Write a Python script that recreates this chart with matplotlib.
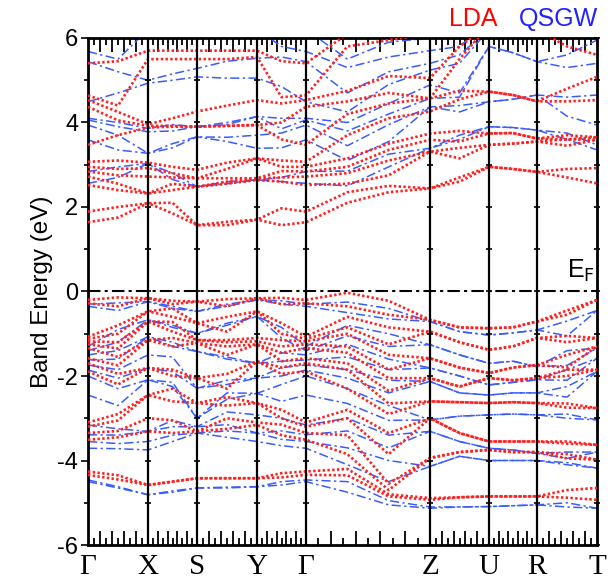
import matplotlib
matplotlib.use("Agg")
import matplotlib.pyplot as plt
import matplotlib.transforms as mtransforms
import numpy as np

plt.rcParams["font.family"] = ["Liberation Sans", "DejaVu Sans"]

# k-path (segment lengths along the path) and high-symmetry labels
seg_len = [60, 49, 60, 49, 124, 59, 48, 60]
hs_labels = ["Γ", "X", "S", "Y", "Γ", "Z", "U", "R", "T"]

# energies (eV) at the 18 k-nodes:
# Γ, m, X, m, S, m, Y, m, Γ, q1, q2, Z, m, U, m, R, m, T
lda_val = [
    [-0.20, -0.28, -1.07, -1.12, -1.18, -1.25, -1.34, -1.58, -1.70, -1.89, -3.10, -3.20, -3.35, -3.51, -4.26, -4.34],
    [-0.14, -0.35, -0.80, -1.00, -1.20, -1.35, -1.55, -1.75, -1.95, -2.20, -2.90, -3.05, -3.30, -3.45, -4.35, -4.45],
    [-0.16, -0.16, -0.47, -0.47, -0.71, -0.71, -1.15, -1.15, -1.81, -1.81, -2.45, -2.45, -3.00, -3.31, -4.58, -4.58],
    [-0.22, -0.30, -0.40, -0.60, -0.72, -0.95, -1.10, -1.30, -1.85, -2.00, -2.30, -2.60, -3.05, -3.35, -4.50, -4.50],
    [-0.24, -0.24, -0.75, -0.75, -1.15, -1.15, -1.22, -1.22, -2.05, -2.05, -2.64, -2.64, -3.31, -3.31, -4.42, -4.42],
    [-0.18, -0.35, -0.60, -0.95, -1.15, -1.20, -1.30, -1.50, -1.95, -2.30, -2.50, -2.70, -3.00, -3.25, -4.42, -4.42],
    [-0.16, -0.16, -0.47, -0.47, -1.10, -1.18, -1.25, -1.25, -1.65, -1.65, -2.64, -2.64, -3.10, -3.16, -4.42, -4.42],
    [-0.15, -0.30, -0.75, -1.00, -1.15, -1.30, -1.45, -1.65, -1.80, -1.95, -2.80, -3.00, -3.15, -3.40, -4.30, -4.40],
    [-0.20, -0.28, -1.07, -1.12, -1.18, -1.25, -1.34, -1.58, -1.70, -1.89, -3.10, -3.20, -3.35, -3.51, -4.26, -4.34],
    [-0.03, -0.35, -0.60, -0.85, -1.00, -1.30, -1.45, -1.70, -1.85, -2.30, -2.80, -3.00, -3.40, -3.85, -4.20, -4.35],
    [-0.22, -0.55, -0.85, -1.25, -1.50, -1.85, -2.05, -2.35, -2.65, -2.90, -3.35, -3.85, -4.55, -4.70, -4.80, -4.85],
    [-0.67, -0.67, -0.95, -0.95, -1.58, -1.58, -2.05, -2.05, -2.60, -2.60, -3.00, -3.00, -3.94, -3.94, -4.89, -4.93],
    [-0.85, -0.85, -1.20, -1.20, -1.80, -1.80, -2.25, -2.25, -2.62, -2.62, -3.35, -3.35, -3.80, -3.80, -4.87, -4.87],
    [-0.87, -0.87, -1.38, -1.38, -1.93, -1.93, -2.05, -2.05, -2.64, -2.64, -3.55, -3.55, -3.75, -3.75, -4.85, -4.85],
    [-0.85, -0.85, -1.30, -1.30, -1.80, -1.80, -2.10, -2.10, -2.62, -2.62, -3.55, -3.55, -3.80, -3.80, -4.85, -4.85],
    [-0.71, -0.71, -1.10, -1.10, -1.74, -1.74, -2.05, -2.05, -2.64, -2.64, -3.55, -3.55, -3.80, -3.80, -4.85, -4.85],
    [-0.45, -0.55, -1.05, -1.20, -1.50, -1.80, -1.85, -2.00, -2.65, -2.75, -3.55, -3.60, -3.85, -3.95, -4.70, -4.88],
    [-0.20, -0.20, -1.10, -1.10, -1.30, -1.30, -1.85, -1.85, -2.76, -2.76, -3.63, -3.63, -3.98, -3.98, -4.65, -4.93],
]

gw_val = [
    [-0.30, -0.35, -1.30, -1.40, -1.50, -1.62, -1.74, -1.86, -2.00, -2.45, -3.16, -3.39, -3.55, -3.71, -4.46, -4.50],
    [-0.27, -0.45, -0.90, -1.20, -1.40, -1.60, -1.85, -2.05, -2.30, -2.70, -3.25, -3.40, -3.60, -3.72, -4.62, -4.65],
    [-0.24, -0.24, -0.67, -0.67, -1.07, -1.07, -1.50, -1.81, -2.09, -2.09, -3.31, -3.31, -3.55, -3.75, -4.81, -4.81],
    [-0.35, -0.40, -0.80, -0.85, -1.20, -1.30, -1.55, -1.90, -2.15, -2.25, -3.05, -3.20, -3.40, -3.55, -4.72, -4.75],
    [-0.47, -0.47, -0.99, -0.99, -1.42, -1.42, -2.29, -2.29, -3.00, -3.00, -3.20, -3.20, -3.35, -3.35, -4.65, -4.65],
    [-0.30, -0.35, -0.75, -0.80, -1.55, -1.60, -2.10, -2.20, -2.40, -2.55, -2.85, -3.15, -3.30, -3.45, -4.63, -4.65],
    [-0.20, -0.20, -0.59, -0.59, -1.70, -1.70, -2.05, -2.05, -2.41, -2.41, -2.92, -3.35, -3.35, -3.55, -4.62, -4.62],
    [-0.22, -0.30, -0.85, -1.10, -1.45, -1.65, -1.80, -2.00, -2.20, -2.60, -3.00, -3.30, -3.50, -3.65, -4.50, -4.58],
    [-0.30, -0.35, -1.30, -1.40, -1.50, -1.62, -1.74, -1.86, -2.00, -2.45, -3.16, -3.39, -3.55, -3.71, -4.46, -4.50],
    [-0.25, -0.50, -0.80, -1.05, -1.25, -1.55, -1.85, -2.05, -2.30, -2.65, -3.00, -3.30, -3.70, -4.10, -4.50, -4.75],
    [-0.40, -0.65, -1.00, -1.30, -1.60, -1.85, -2.10, -2.40, -2.70, -3.05, -3.40, -3.70, -4.00, -4.50, -4.95, -5.05],
    [-0.71, -0.71, -1.26, -1.26, -1.81, -1.81, -2.13, -2.13, -3.04, -3.04, -3.31, -3.31, -4.14, -4.14, -5.10, -5.13],
    [-0.95, -0.95, -1.50, -1.50, -2.00, -2.00, -2.40, -2.40, -2.95, -2.95, -3.55, -3.55, -3.90, -3.90, -5.10, -5.10],
    [-1.03, -1.03, -1.70, -1.70, -2.21, -2.21, -2.45, -2.45, -2.92, -2.92, -3.71, -3.71, -4.00, -4.00, -5.09, -5.09],
    [-0.98, -0.98, -1.65, -1.65, -2.15, -2.15, -2.40, -2.40, -2.90, -2.90, -3.75, -3.75, -4.00, -4.00, -5.07, -5.07],
    [-0.91, -0.91, -1.78, -1.78, -2.09, -2.09, -2.40, -2.40, -2.92, -2.92, -3.83, -3.83, -4.00, -4.00, -5.05, -5.05],
    [-0.70, -1.05, -1.40, -1.75, -1.85, -2.10, -2.25, -2.50, -2.90, -3.00, -3.80, -3.95, -4.05, -4.10, -5.00, -5.10],
    [-0.45, -0.45, -1.34, -1.34, -1.58, -1.58, -1.89, -1.89, -3.04, -3.04, -3.80, -3.80, -4.18, -4.18, -5.13, -5.13],
]

lda_cond = [
    [1.64, 1.89, 2.52, 2.72, 2.84, 2.95, 3.07, 3.47, 4.37, 4.53, 4.64, 5.40],
    [1.75, 2.00, 2.40, 2.55, 2.75, 2.90, 3.10, 3.70, 4.05, 4.25, 4.40, 5.45],
    [2.09, 2.09, 2.32, 2.32, 2.72, 2.92, 3.05, 3.88, 3.92, 3.96, 5.50, 5.70],
    [1.85, 2.10, 2.40, 2.55, 2.70, 2.80, 2.95, 3.90, 3.92, 4.10, 5.50, 5.70],
    [1.57, 1.57, 2.48, 2.48, 2.68, 2.68, 2.88, 3.90, 3.90, 4.26, 5.50, 5.70],
    [1.57, 1.65, 2.55, 2.60, 2.68, 2.90, 3.05, 3.92, 3.92, 4.40, 5.50, 5.70],
    [1.70, 1.70, 2.64, 2.68, 2.68, 3.15, 3.15, 3.94, 3.94, 4.53, 5.55, 5.70],
    [1.57, 1.97, 2.60, 2.70, 2.85, 2.95, 3.10, 3.60, 4.00, 4.45, 4.60, 5.45],
    [1.64, 1.89, 2.52, 2.72, 2.84, 2.95, 3.07, 3.47, 4.37, 4.53, 4.64, 5.40],
    [2.10, 2.35, 2.55, 2.80, 2.95, 3.15, 3.70, 4.20, 4.50, 4.75, 5.80, 6.10],
    [2.35, 2.50, 2.75, 3.10, 3.35, 3.50, 4.10, 4.45, 4.70, 5.10, 5.95, 6.20],
    [2.44, 2.44, 3.31, 3.31, 3.59, 3.74, 4.26, 4.57, 4.57, 5.05, 6.10, 6.30],
    [2.60, 2.70, 3.15, 3.40, 3.55, 3.80, 4.55, 4.75, 5.50, 5.80, 6.20, 6.30],
    [2.95, 2.95, 3.47, 3.47, 3.74, 3.74, 4.73, 4.73, 6.30, 6.30, 6.50, 6.50],
    [2.90, 2.90, 3.50, 3.50, 3.75, 3.75, 4.65, 4.65, 6.30, 6.30, 6.50, 6.50],
    [2.83, 2.83, 3.55, 3.55, 3.62, 3.62, 4.50, 4.50, 6.20, 6.20, 6.50, 6.50],
    [2.70, 2.90, 3.45, 3.60, 3.60, 3.70, 4.50, 4.80, 5.80, 6.20, 6.40, 6.50],
    [2.56, 2.92, 3.59, 3.59, 3.65, 3.65, 4.53, 5.08, 5.60, 6.10, 6.40, 6.50],
]

gw_cond = [
    [2.56, 2.84, 3.59, 3.94, 4.06, 4.10, 4.49, 5.44, 5.68, 6.20],
    [2.70, 2.95, 3.35, 3.70, 3.90, 4.00, 4.70, 5.20, 5.50, 6.20],
    [3.03, 3.03, 3.27, 3.27, 3.78, 3.86, 4.93, 5.00, 6.20, 6.30],
    [2.65, 2.80, 3.40, 3.50, 3.80, 3.95, 5.00, 5.15, 6.10, 6.30],
    [2.48, 2.48, 3.66, 3.66, 3.90, 3.90, 5.08, 5.28, 6.20, 6.30],
    [2.55, 2.60, 3.55, 3.65, 3.95, 4.00, 5.05, 5.45, 6.10, 6.30],
    [2.64, 2.64, 3.39, 3.70, 4.14, 4.14, 5.05, 5.52, 6.20, 6.30],
    [2.60, 2.70, 3.40, 3.75, 3.85, 4.10, 4.85, 5.55, 5.80, 6.25],
    [2.56, 2.84, 3.59, 3.94, 4.06, 4.10, 4.49, 5.44, 5.68, 6.20],
    [2.50, 2.85, 3.10, 3.45, 3.80, 4.00, 4.25, 4.70, 5.30, 5.50],
    [2.95, 3.25, 3.55, 3.95, 4.20, 4.45, 4.90, 5.20, 5.55, 5.90],
    [3.39, 3.39, 4.37, 4.37, 4.57, 4.89, 5.24, 5.40, 5.70, 6.00],
    [3.60, 3.70, 4.25, 4.40, 4.60, 4.70, 5.40, 5.60, 5.80, 6.10],
    [3.90, 3.90, 4.49, 4.49, 5.80, 5.80, 6.20, 6.20, 6.40, 6.40],
    [3.88, 3.88, 4.55, 4.55, 5.65, 5.65, 6.20, 6.20, 6.40, 6.40],
    [3.82, 3.82, 4.65, 4.65, 5.44, 5.44, 6.20, 6.20, 6.40, 6.40],
    [3.60, 3.75, 4.15, 4.60, 5.30, 5.60, 6.10, 6.20, 6.40, 6.40],
    [3.35, 3.47, 3.94, 4.65, 5.40, 5.95, 6.10, 6.20, 6.40, 6.40],
]

# node positions along the path
hs_k = np.concatenate([[0], np.cumsum(seg_len)])
k_nodes = []
for i, L in enumerate(seg_len):
    k_nodes.append(hs_k[i])
    if i == 4:
        k_nodes += [hs_k[i] + L / 3, hs_k[i] + 2 * L / 3]
    else:
        k_nodes.append(hs_k[i] + L / 2)
k_nodes.append(hs_k[-1])
k_nodes = np.array(k_nodes)

RED = "#ff2020"
BLUE = "#3a5cff"

fig = plt.figure(figsize=(6.13, 5.79), dpi=100)
ax = fig.add_axes([0.1436, 0.0587, 0.9739 - 0.1436, 0.9344 - 0.0587])


def draw_bands(table, color, style):
    arr = np.sort(np.array(table), axis=1)
    for j in range(arr.shape[1]):
        ax.plot(k_nodes, arr[:, j], color=color, **style)


red_style = dict(lw=1.9, linestyle=(0, (0.9, 0.9)), dash_capstyle="butt", zorder=3)
blue_style = dict(lw=1.1, linestyle=(0, (6, 2.2, 1.5, 2.2)), zorder=2)
draw_bands(gw_val, BLUE, blue_style)
draw_bands(gw_cond, BLUE, blue_style)
draw_bands(lda_val, RED, red_style)
draw_bands(lda_cond, RED, red_style)

# Fermi level and high-symmetry lines
ax.axhline(0, color="black", lw=1.5, linestyle=(0, (6, 2, 1.5, 2)), zorder=4)
for k in hs_k[1:-1]:
    ax.axvline(k, color="black", lw=1.6, zorder=4)
    ax.plot([k] * 13, np.arange(-6, 7), marker="_", ms=5, mew=1.2,
            color="black", lw=0, zorder=5)

ax.set_xlim(hs_k[0], hs_k[-1])
ax.set_ylim(-6, 6)
ax.set_xticks(hs_k)
ax.set_xticklabels([])
ax.tick_params(axis="x", length=0)
# k-point labels, baseline just above the figure bottom
lab_tr = mtransforms.blended_transform_factory(ax.transData, fig.transFigure)
for k, lab in zip(hs_k, hs_labels):
    ax.text(k, 4.5 / 579, lab, transform=lab_tr, ha="center", va="baseline",
            family=["Liberation Serif", "DejaVu Serif"], fontsize=21)

ax.set_yticks(np.arange(-6, 7, 2))
ax.set_yticklabels([str(v) for v in range(-6, 7, 2)], fontsize=17)
ax.set_yticks(np.arange(-6, 7, 1), minor=True)
ax.tick_params(axis="y", which="major", direction="out", left=True, right=False,
               length=5, width=1.2, pad=2)
ax.tick_params(axis="y", which="minor", direction="out", left=True, right=False,
               length=3, width=1.2)
ax.plot([hs_k[-1]] * 13, np.arange(-6, 7), marker="_", ms=5, mew=1.2,
        color="black", lw=0, zorder=5, clip_on=False)
ax.set_ylabel("Band Energy (eV)", fontsize=17.5, labelpad=3)
for s in ax.spines.values():
    s.set_linewidth(2)

# k-point ticks along top and bottom
long_t, short_t = [], []
for i, L in enumerate(seg_len):
    pts = np.linspace(hs_k[i], hs_k[i + 1], 11)[1:-1]
    long_t += list(pts[1::2])
    short_t += list(pts[0::2])
for where in ("top", "bottom"):
    sec = ax.secondary_xaxis(where)
    sec.set_xticks(long_t)
    sec.set_xticks(short_t, minor=True)
    sec.tick_params(which="major", direction="in", length=10, width=1.3, labelbottom=False, labeltop=False)
    sec.tick_params(which="minor", direction="in", length=5, width=1.3)
    sec.set_xticklabels([])
    sec.spines[where].set_visible(False)

ax.text(0.995, 0.515, r"E$_\mathrm{F}$", transform=ax.transAxes, ha="right",
        va="bottom", fontsize=18)
fig.text(0.812, 0.967, "LDA", color="red", fontsize=18, ha="right", va="center")
fig.text(0.975, 0.967, "QSGW", color="#2222ff", fontsize=18, ha="right", va="center")

fig.savefig("out.png", dpi=100)
